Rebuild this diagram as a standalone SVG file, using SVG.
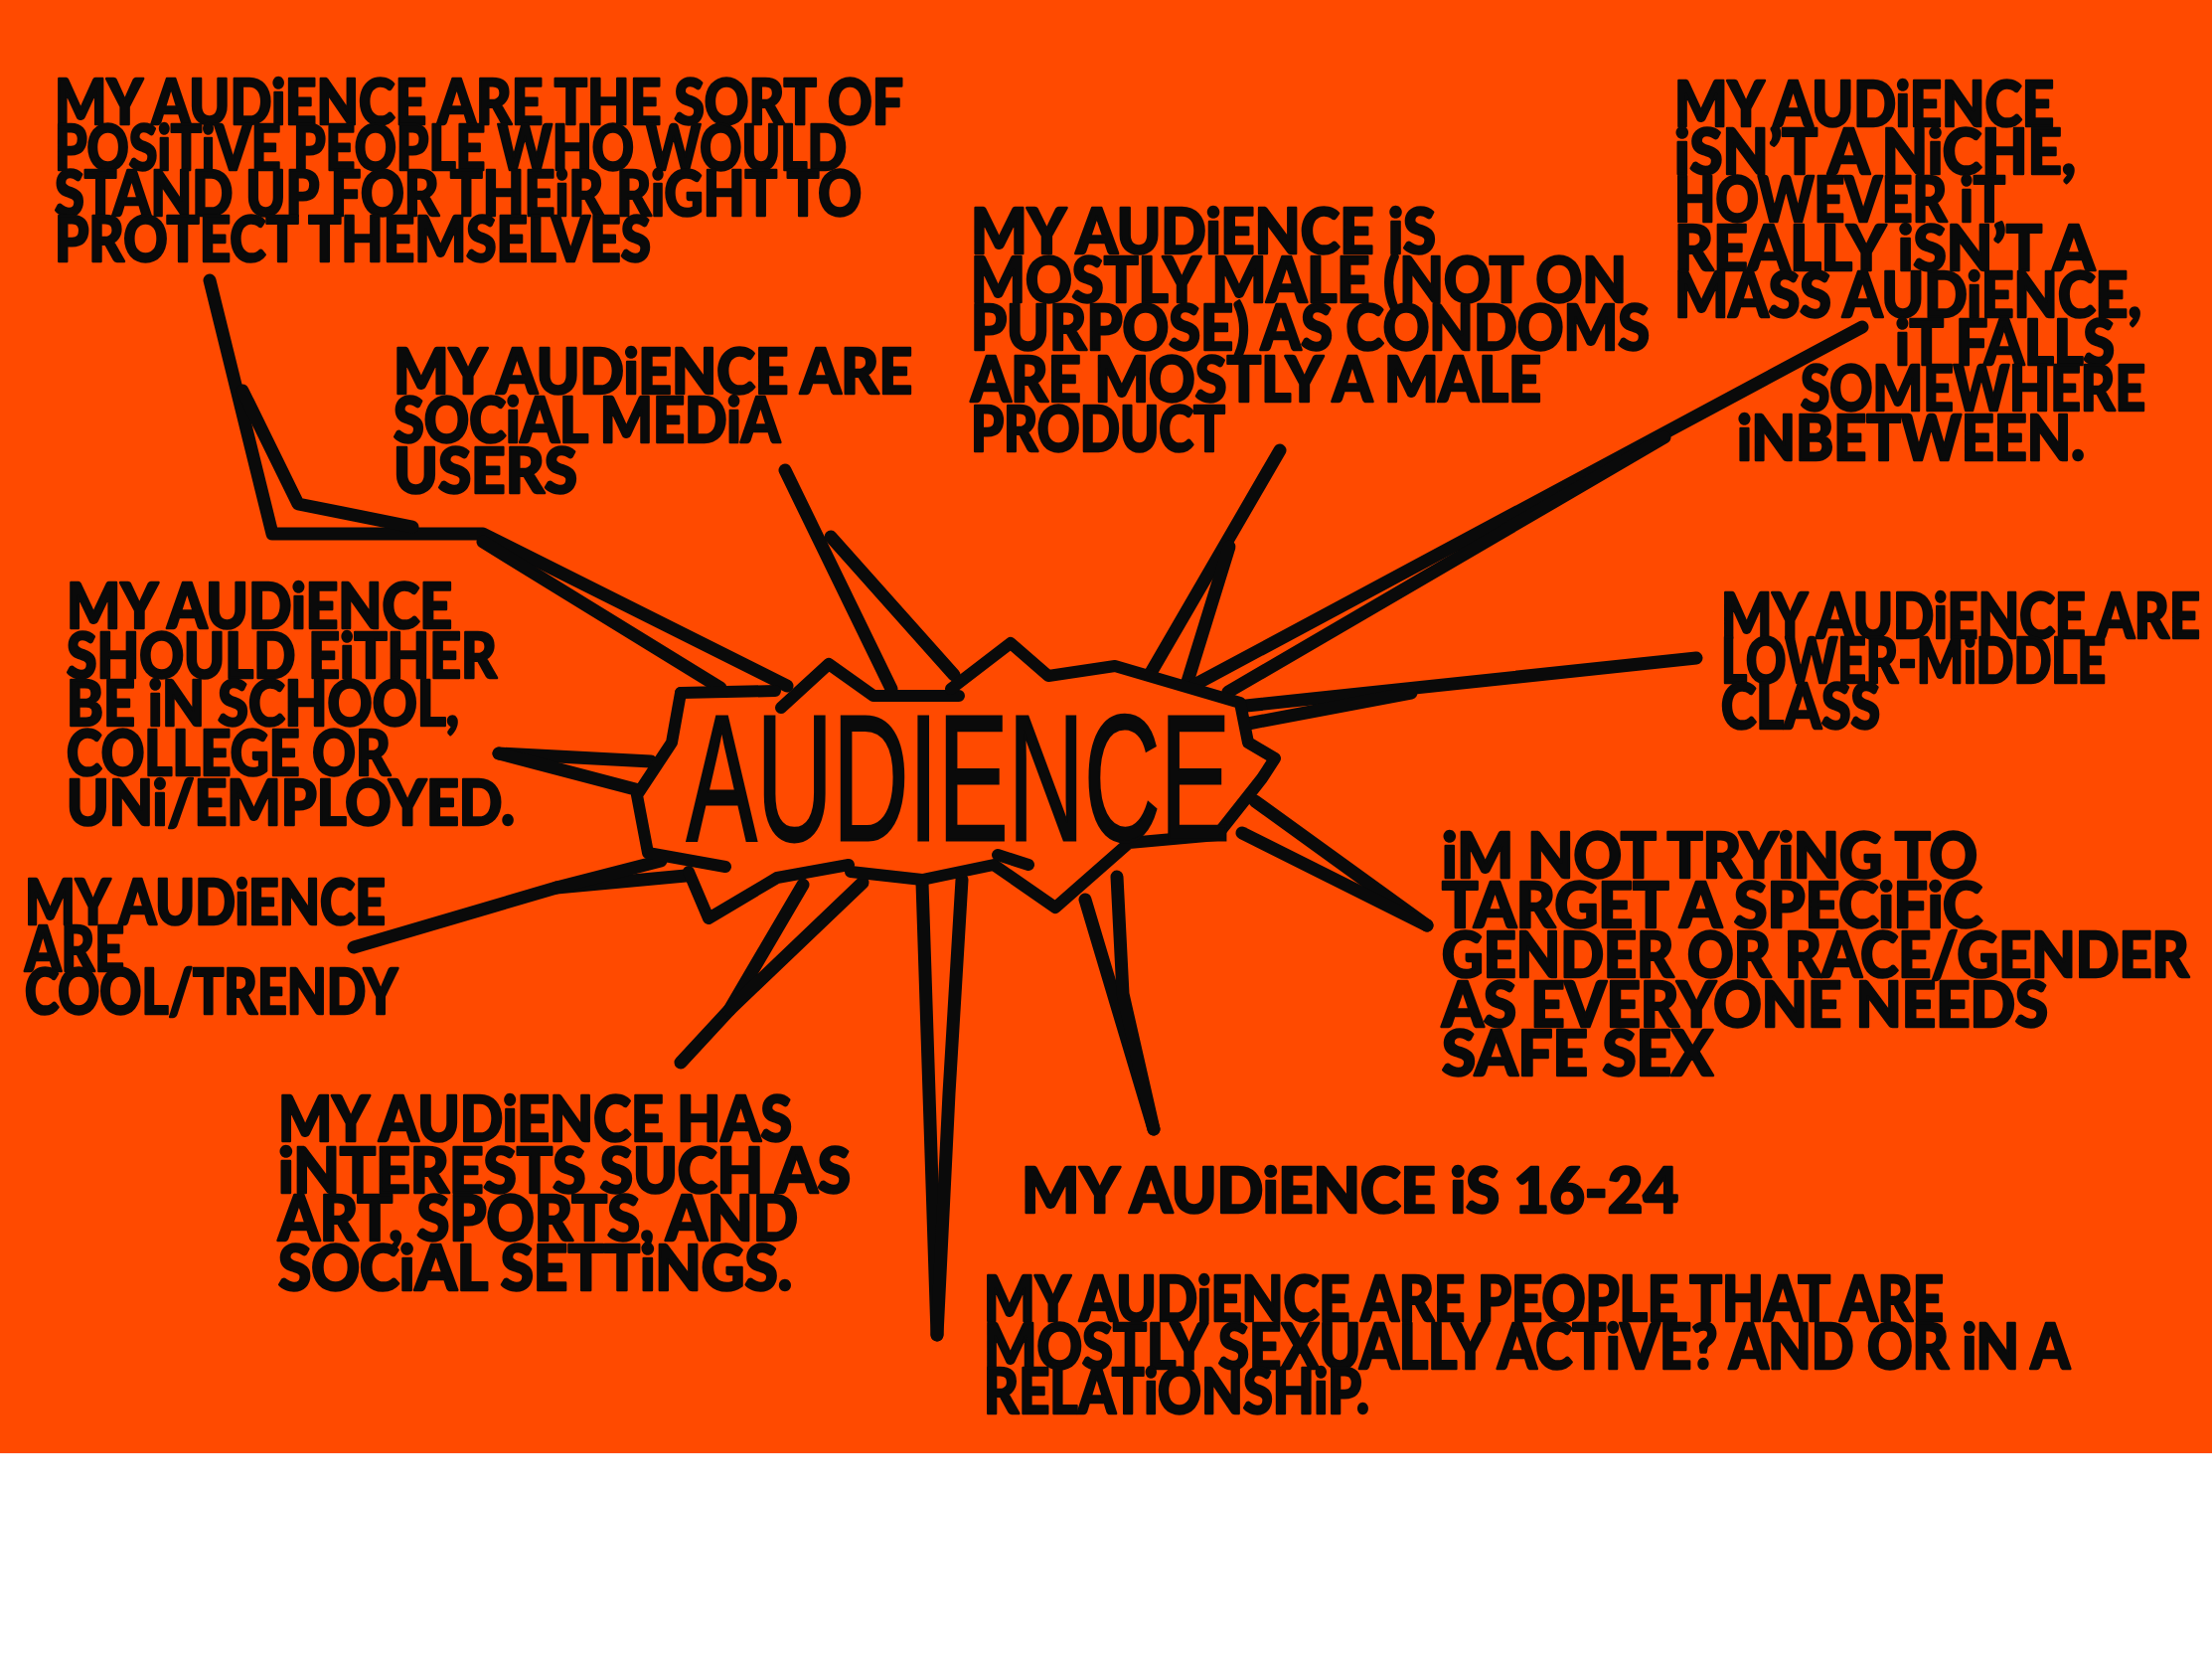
<svg xmlns="http://www.w3.org/2000/svg" width="2226" height="1668" viewBox="0 0 2226 1668">
<style>
.t{font-family:Lato,"Liberation Sans",sans-serif;font-weight:900;font-size:63px;fill:#0a0a0a;stroke:#0a0a0a;stroke-width:2.5;stroke-linejoin:round}
.c{fill:none;stroke:#0a0a0a;stroke-width:13;stroke-linecap:round;stroke-linejoin:round}
.b{fill:none;stroke:#0a0a0a;stroke-width:12;stroke-linecap:round;stroke-linejoin:round}
.big{font-family:"Liberation Sans",sans-serif;font-weight:normal;font-size:180px;fill:#0a0a0a;stroke:#0a0a0a;stroke-width:3}
</style>
<rect x="0" y="0" width="2226" height="1668" fill="#ffffff"/>
<rect x="0" y="0" width="2226" height="1462" fill="#ff4a00"/>

<g id="connectors">
<path class="c" d="M211,282 L274,537 L486,537 L792,690"/>
<path class="c" d="M244,393 L300,507 L415,530"/>
<path class="c" d="M486,545 L725,692"/>
<path class="c" d="M790,473 L897,693"/>
<path class="c" d="M836,540 L960,679"/>
<path class="c" d="M1288,453 L1158,677"/>
<path class="c" d="M1237,550 L1194,689"/>
<path class="c" d="M1874,329 L1202,689"/>
<path class="c" d="M1675,440 L1236,696"/>
<path class="c" d="M1707,662 L1254,710"/>
<path class="c" d="M1420,697 L1256,728"/>
<path class="c" d="M1436,931 L1263,806"/>
<path class="c" d="M1436,931 L1250,838"/>
<path class="c" d="M1161,1136 L1092,905"/>
<path class="c" d="M1161,1136 L1130,1000 L1124,882"/>
<path class="c" d="M943,1343 L928,888"/>
<path class="c" d="M943,1343 L955,1100 L968,885"/>
<path class="c" d="M685,1069 L734,1016 L808,890"/>
<path class="c" d="M734,1016 L868,888"/>
<path class="c" d="M356,953 L560,893 L690,881"/>
<path class="c" d="M560,893 L665,866"/>
<path class="c" d="M502,758 L655,766"/>
<path class="c" d="M502,758 L540,768 L643,795"/>
</g>

<g id="audience">
<path class="b" d="M685,697 L676,747 L641,800 L652,858 L730,872"/>
<path class="b" d="M685,697 L780,695"/>
<path class="b" d="M786,712 L834,668 L879,700 L965,700"/>
<path class="b" d="M957,693 L1017,647 L1055,680 L1122,670 L1248,707 L1256,747 L1283,763 L1270,783 L1225,840 L1136,848 L1062,913 L1000,870 L928,885 L856,877"/>
<path class="b" d="M1004,860 L1035,870"/>
<path class="b" d="M854,870 L782,883 L713,924 L693,877"/>
<text class="big" x="691" y="845" textLength="547" lengthAdjust="spacingAndGlyphs">AUDIENCE</text>
</g>

<g id="node-protect">
<text class="t" x="55" y="125" textLength="854" lengthAdjust="spacingAndGlyphs">MY AUDiENCE ARE THE SORT OF</text>
<text class="t" x="55" y="171" textLength="797" lengthAdjust="spacingAndGlyphs">POSiTiVE PEOPLE WHO WOULD</text>
<text class="t" x="55" y="217" textLength="812" lengthAdjust="spacingAndGlyphs">STAND UP FOR THEiR RiGHT TO</text>
<text class="t" x="55" y="263" textLength="600" lengthAdjust="spacingAndGlyphs">PROTECT THEMSELVES</text>
</g>

<g id="node-social">
<text class="t" x="396" y="396" textLength="522" lengthAdjust="spacingAndGlyphs">MY AUDiENCE ARE</text>
<text class="t" x="396" y="445" textLength="389" lengthAdjust="spacingAndGlyphs">SOCiAL MEDiA</text>
<text class="t" x="396" y="496" textLength="185" lengthAdjust="spacingAndGlyphs">USERS</text>
</g>

<g id="node-male">
<text class="t" x="977" y="255" textLength="468" lengthAdjust="spacingAndGlyphs">MY AUDiENCE iS</text>
<text class="t" x="977" y="304" textLength="660" lengthAdjust="spacingAndGlyphs">MOSTLY MALE (NOT ON</text>
<text class="t" x="977" y="352" textLength="683" lengthAdjust="spacingAndGlyphs">PURPOSE) AS CONDOMS</text>
<text class="t" x="977" y="404" textLength="574" lengthAdjust="spacingAndGlyphs">ARE MOSTLY A MALE</text>
<text class="t" x="977" y="454" textLength="256" lengthAdjust="spacingAndGlyphs">PRODUCT</text>
</g>

<g id="node-niche">
<text class="t" x="1685" y="127" textLength="382" lengthAdjust="spacingAndGlyphs">MY AUDiENCE</text>
<text class="t" x="1685" y="175" textLength="404" lengthAdjust="spacingAndGlyphs">iSN’T A NiCHE,</text>
<text class="t" x="1685" y="223" textLength="333" lengthAdjust="spacingAndGlyphs">HOWEVER iT</text>
<text class="t" x="1685" y="272" textLength="423" lengthAdjust="spacingAndGlyphs">REALLY iSN’T A</text>
<text class="t" x="1685" y="319" textLength="470" lengthAdjust="spacingAndGlyphs">MASS AUDiENCE,</text>
<text class="t" x="1907" y="367" textLength="221" lengthAdjust="spacingAndGlyphs">iT FALLS</text>
<text class="t" x="1812" y="413" textLength="347" lengthAdjust="spacingAndGlyphs">SOMEWHERE</text>
<text class="t" x="1748" y="463" textLength="350" lengthAdjust="spacingAndGlyphs">iNBETWEEN.</text>
</g>

<g id="node-school">
<text class="t" x="67" y="632" textLength="388" lengthAdjust="spacingAndGlyphs">MY AUDiENCE</text>
<text class="t" x="67" y="682" textLength="433" lengthAdjust="spacingAndGlyphs">SHOULD EiTHER</text>
<text class="t" x="67" y="730" textLength="395" lengthAdjust="spacingAndGlyphs">BE iN SCHOOL,</text>
<text class="t" x="67" y="780" textLength="326" lengthAdjust="spacingAndGlyphs">COLLEGE OR</text>
<text class="t" x="67" y="830" textLength="451" lengthAdjust="spacingAndGlyphs">UNi/EMPLOYED.</text>
</g>

<g id="node-cool">
<text class="t" x="25" y="930" textLength="363" lengthAdjust="spacingAndGlyphs">MY AUDiENCE</text>
<text class="t" x="25" y="977" textLength="100" lengthAdjust="spacingAndGlyphs">ARE</text>
<text class="t" x="25" y="1020" textLength="375" lengthAdjust="spacingAndGlyphs">COOL/TRENDY</text>
</g>

<g id="node-interests">
<text class="t" x="280" y="1148" textLength="517" lengthAdjust="spacingAndGlyphs">MY AUDiENCE HAS</text>
<text class="t" x="280" y="1200" textLength="576" lengthAdjust="spacingAndGlyphs">iNTERESTS SUCH AS</text>
<text class="t" x="280" y="1248" textLength="523" lengthAdjust="spacingAndGlyphs">ART, SPORTS, AND</text>
<text class="t" x="280" y="1298" textLength="517" lengthAdjust="spacingAndGlyphs">SOCiAL SETTiNGS.</text>
</g>

<g id="node-active">
<text class="t" x="990" y="1329" textLength="966" lengthAdjust="spacingAndGlyphs">MY AUDiENCE ARE PEOPLE THAT ARE</text>
<text class="t" x="990" y="1377" textLength="1093" lengthAdjust="spacingAndGlyphs">MOSTLY SEXUALLY ACTiVE? AND OR iN A</text>
<text class="t" x="990" y="1422" textLength="388" lengthAdjust="spacingAndGlyphs">RELATiONSHiP.</text>
</g>

<g id="node-age">
<text class="t" x="1028" y="1220" textLength="661" lengthAdjust="spacingAndGlyphs">MY AUDiENCE iS 16-24</text>
</g>

<g id="node-gender">
<text class="t" x="1451" y="883" textLength="539" lengthAdjust="spacingAndGlyphs">iM NOT TRYiNG TO</text>
<text class="t" x="1451" y="933" textLength="544" lengthAdjust="spacingAndGlyphs">TARGET A SPECiFiC</text>
<text class="t" x="1451" y="983" textLength="752" lengthAdjust="spacingAndGlyphs">GENDER OR RACE/GENDER</text>
<text class="t" x="1451" y="1033" textLength="610" lengthAdjust="spacingAndGlyphs">AS EVERYONE NEEDS</text>
<text class="t" x="1451" y="1082" textLength="273" lengthAdjust="spacingAndGlyphs">SAFE SEX</text>
</g>

<g id="node-class">
<text class="t" x="1732" y="642" textLength="482" lengthAdjust="spacingAndGlyphs">MY AUDiENCE ARE</text>
<text class="t" x="1732" y="687" textLength="387" lengthAdjust="spacingAndGlyphs">LOWER-MiDDLE</text>
<text class="t" x="1732" y="733" textLength="160" lengthAdjust="spacingAndGlyphs">CLASS</text>
</g>
</svg>
